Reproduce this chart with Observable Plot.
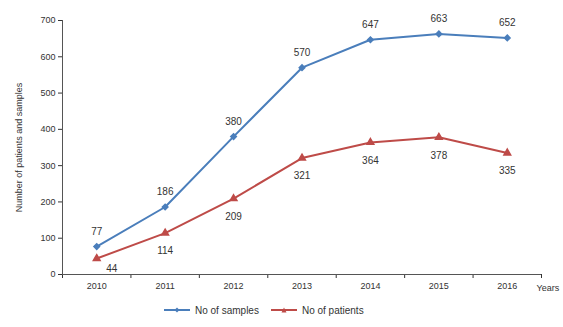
<!DOCTYPE html>
<html><head><meta charset="utf-8">
<script src="https://cdn.jsdelivr.net/npm/d3@7"></script>
<script src="https://cdn.jsdelivr.net/npm/@observablehq/plot@0.6"></script>
<style>
body{margin:0;background:#fff;font-family:"Liberation Sans",Arial,sans-serif;}
#legend{display:flex;justify-content:flex-start;align-items:center;font-size:10px;color:#333;height:24px;padding-left:164px;gap:0}
#legend .item{display:flex;align-items:center;margin-right:12px}
#legend svg{margin-right:5px}
</style></head><body>
<div id="chart"></div>
<div id="legend"></div>
<script>
const years = [2010, 2011, 2012, 2013, 2014, 2015, 2016];
const samples = [77, 186, 380, 570, 647, 663, 652];
const patients = [44, 114, 209, 321, 364, 378, 335];
const seriesNames = ["No of samples", "No of patients"];
const yTicks = [0, 100, 200, 300, 400, 500, 600, 700];

const blue = "#4a7ebb", red = "#be4b48";
const sData = years.map((y, i) => ({year: y, v: samples[i]}));
const pData = years.map((y, i) => ({year: y, v: patients[i]}));
const bounds = d3.range(years[0] - 0.5, years[years.length - 1] + 1, 1);

const plot = Plot.plot({
  width: 563, height: 298,
  marginLeft: 62, marginRight: 22, marginTop: 20, marginBottom: 24,
  style: {fontFamily: "Liberation Sans, Arial, sans-serif", fontSize: "9px", color: "#333", overflow: "visible"},
  x: {domain: [bounds[0], bounds[bounds.length - 1]]},
  y: {domain: [0, 700]},
  marks: [
    Plot.axisY({ticks: yTicks, tickSize: 4, tickPadding: 3, label: "Number of patients and samples", labelAnchor: "center", labelArrow: "none", labelOffset: 47}),
    Plot.axisX({ticks: bounds, tickSize: 4, tickFormat: () => "", label: null}),
    Plot.axisX({ticks: years, tickSize: 0, tickPadding: 8, tickFormat: d => String(d), label: null}),
    Plot.ruleX([bounds[0]], {stroke: "#555"}),
    Plot.ruleY([0], {stroke: "#555"}),
    Plot.text(["Years"], {x: bounds[bounds.length - 1], y: 0, dx: -5, dy: 14, textAnchor: "start", fill: "#333"}),
    Plot.line(sData, {x: "year", y: "v", stroke: blue, strokeWidth: 2}),
    Plot.dot(sData, {x: "year", y: "v", symbol: "diamond2", r: 2.5, fill: blue, stroke: blue}),
    Plot.line(pData, {x: "year", y: "v", stroke: red, strokeWidth: 2}),
    Plot.dot(pData, {x: "year", y: "v", symbol: "triangle", r: 2.5, fill: red, stroke: red}),
    Plot.text(sData, {x: "year", y: "v", text: d => String(d.v), dy: -15, fontSize: 10, fill: "#333"}),
    Plot.text(pData.slice(0, 1), {x: "year", y: "v", text: d => String(d.v), dx: 15, dy: 10, fontSize: 10, fill: "#333"}),
    Plot.text(pData.slice(1), {x: "year", y: "v", text: d => String(d.v), dy: 18, fontSize: 10, fill: "#333"})
  ]
});
document.getElementById("chart").appendChild(plot);

const legend = document.getElementById("legend");
const markers = [
  `<svg width="26" height="8"><line x1="0" y1="4" x2="26" y2="4" stroke="${blue}" stroke-width="2"/><path d="M13,1.5 L15.5,4 L13,6.5 L10.5,4Z" fill="${blue}"/></svg>`,
  `<svg width="26" height="8"><line x1="0" y1="4" x2="26" y2="4" stroke="${red}" stroke-width="2"/><path d="M13,1.5 L15.5,6.5 L10.5,6.5Z" fill="${red}"/></svg>`
];
seriesNames.forEach((n, i) => {
  const d = document.createElement("div");
  d.className = "item";
  d.innerHTML = markers[i] + `<span>${n}</span>`;
  legend.appendChild(d);
});
</script>
</body></html>
